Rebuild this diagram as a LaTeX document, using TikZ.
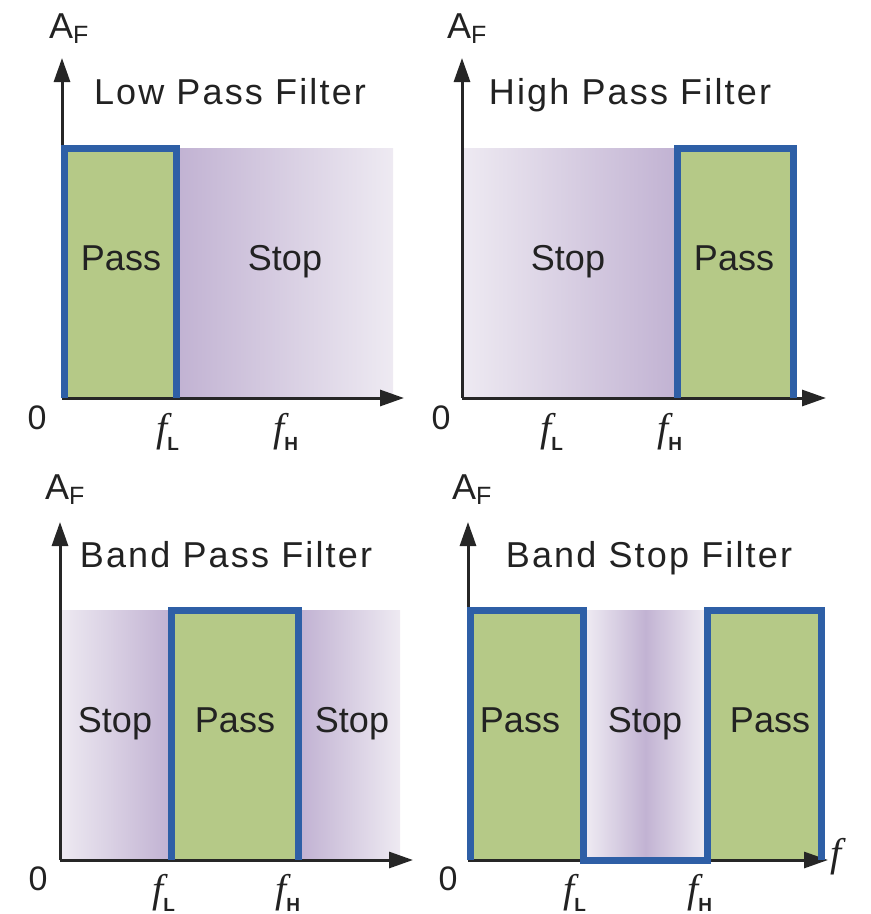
\documentclass[tikz,border=0pt]{standalone}
\usepackage{fontspec}
\setmainfont{Liberation Sans}
\newfontfamily\fserif{Liberation Serif}
\usetikzlibrary{arrows.meta}

\definecolor{passgreen}{HTML}{B5C987}
\definecolor{bandblue}{HTML}{2E5FA6}
\definecolor{stopdark}{HTML}{C2B3D3}
\definecolor{stoplight}{HTML}{EEEAF2}
\definecolor{axisgray}{HTML}{262626}
\definecolor{inkcol}{HTML}{222222}

% frequency label: italic f with a small upright subscript
\newcommand{\freqlbl}[1]{{\fserif\itshape\fontsize{40}{40}\selectfont f}\raisebox{-9pt}{\rmfamily\upshape\bfseries\fontsize{19}{19}\selectfont #1}}

\tikzset{
  bandtext/.style={anchor=base, inner sep=0pt, text=inkcol, font=\fontsize{36}{36}\selectfont},
  titletext/.style={anchor=base, inner sep=0pt, text=inkcol, font=\fontsize{36}{36}\selectfont\addfontfeature{LetterSpace=6}},
  gaintext/.style={anchor=base west, inner sep=0pt, text=inkcol, font=\fontsize{36}{36}\selectfont},
  zerotext/.style={anchor=center, inner sep=0pt, text=inkcol, font=\fontsize{34}{34}\selectfont},
  freqtext/.style={anchor=base west, inner sep=0pt, text=inkcol},
  axisline/.style={draw=axisgray, line width=3pt, -{Triangle[length=24pt,width=16pt]}},
  bandedge/.style={draw=bandblue, line width=7pt, line join=miter},
  passarea/.style={fill=passgreen},
}

\begin{document}
\begin{tikzpicture}[x=1pt, y=-1pt]
\useasboundingbox (0,0) rectangle (871,914);

% ---------- Low pass ----------
\shade[left color=stopdark, right color=stoplight] (180,148) rectangle (393,398);
\fill[passarea] (64,148) rectangle (177,398);
\coordinate (o1) at (62,398);
\coordinate (y1) at (62,58);
\coordinate (x1) at (404,398);
\draw[axisline] (o1) -- (y1);
\draw[axisline] (o1) -- (x1);
\draw[bandedge] (64,398) -- (64,148) -- (176.5,148) -- (176.5,398);
\node[gaintext] (af1) at (49,38) {A\raisebox{-5pt}{\fontsize{25}{25}\selectfont F}};
\node[titletext] (t1) at (230,104) {Low Pass Filter};
\node[bandtext] (p1) at (121,270) {Pass};
\node[bandtext] (s1) at (285,270) {Stop};
\node[zerotext] (z1) at (37,418) {0};
\node[freqtext] (fl1) at (156,441) {\freqlbl{L}};
\node[freqtext] (fh1) at (273,441) {\freqlbl{H}};

% ---------- High pass ----------
\shade[left color=stoplight, right color=stopdark] (462,148) rectangle (674,398);
\fill[passarea] (677.5,148.5) rectangle (793.5,398);
\coordinate (o2) at (462,398);
\coordinate (y2) at (462,58);
\coordinate (x2) at (826,398);
\draw[axisline] (o2) -- (y2);
\draw[axisline] (o2) -- (x2);
\draw[bandedge] (677.5,398) -- (677.5,148.5) -- (793.5,148.5) -- (793.5,398);
\node[gaintext] (af2) at (447,38) {A\raisebox{-5pt}{\fontsize{25}{25}\selectfont F}};
\node[titletext] (t2) at (630,104) {High Pass Filter};
\node[bandtext] (s2) at (568,270) {Stop};
\node[bandtext] (p2) at (734,270) {Pass};
\node[zerotext] (z2) at (441,418) {0};
\node[freqtext] (fl2) at (540,441) {\freqlbl{L}};
\node[freqtext] (fh2) at (657,441) {\freqlbl{H}};

% ---------- Band pass ----------
\shade[left color=stoplight, right color=stopdark] (60,610) rectangle (168,860);
\shade[left color=stopdark, right color=stoplight] (302,610) rectangle (400,860);
\fill[passarea] (171.5,610.5) rectangle (298.5,860);
\coordinate (o3) at (60,860);
\coordinate (y3) at (60,522);
\coordinate (x3) at (413,860);
\draw[axisline] (o3) -- (y3);
\draw[axisline] (o3) -- (x3);
\draw[bandedge] (171.5,860) -- (171.5,610.5) -- (298.5,610.5) -- (298.5,860);
\node[gaintext] (af3) at (45,499) {A\raisebox{-5pt}{\fontsize{25}{25}\selectfont F}};
\node[titletext] (t3) at (226,567) {Band Pass Filter};
\node[bandtext] (s3a) at (115,732) {Stop};
\node[bandtext] (p3) at (235,732) {Pass};
\node[bandtext] (s3b) at (352,732) {Stop};
\node[zerotext] (z3) at (38,879) {0};
\node[freqtext] (fl3) at (152,902) {\freqlbl{L}};
\node[freqtext] (fh3) at (275,902) {\freqlbl{H}};

% ---------- Band stop ----------
\shade[left color=stoplight, right color=stoplight, middle color=stopdark] (587,610) rectangle (704,860);
\fill[passarea] (470.5,610.5) rectangle (583.5,860);
\fill[passarea] (707.5,610.5) rectangle (821.5,860);
\coordinate (o4) at (468,860);
\coordinate (y4) at (468,522);
\coordinate (x4) at (828,860);
\draw[axisline] (o4) -- (y4);
\draw[axisline] (o4) -- (x4);
\draw[bandedge] (470.5,860) -- (470.5,610.5) -- (583.5,610.5) -- (583.5,860)
  -- (707.5,860) -- (707.5,610.5) -- (821.5,610.5) -- (821.5,860);
\node[gaintext] (af4) at (452,499) {A\raisebox{-5pt}{\fontsize{25}{25}\selectfont F}};
\node[titletext] (t4) at (649,567) {Band Stop Filter};
\node[bandtext] (p4a) at (520,732) {Pass};
\node[bandtext] (s4) at (645,732) {Stop};
\node[bandtext] (p4b) at (770,732) {Pass};
\node[zerotext] (z4) at (448,879) {0};
\node[freqtext] (fl4) at (563,902) {\freqlbl{L}};
\node[freqtext] (fh4) at (687,902) {\freqlbl{H}};
\node[freqtext] (fax) at (830,866) {{\fserif\itshape\fontsize{40}{40}\selectfont f}};
\end{tikzpicture}
\end{document}
